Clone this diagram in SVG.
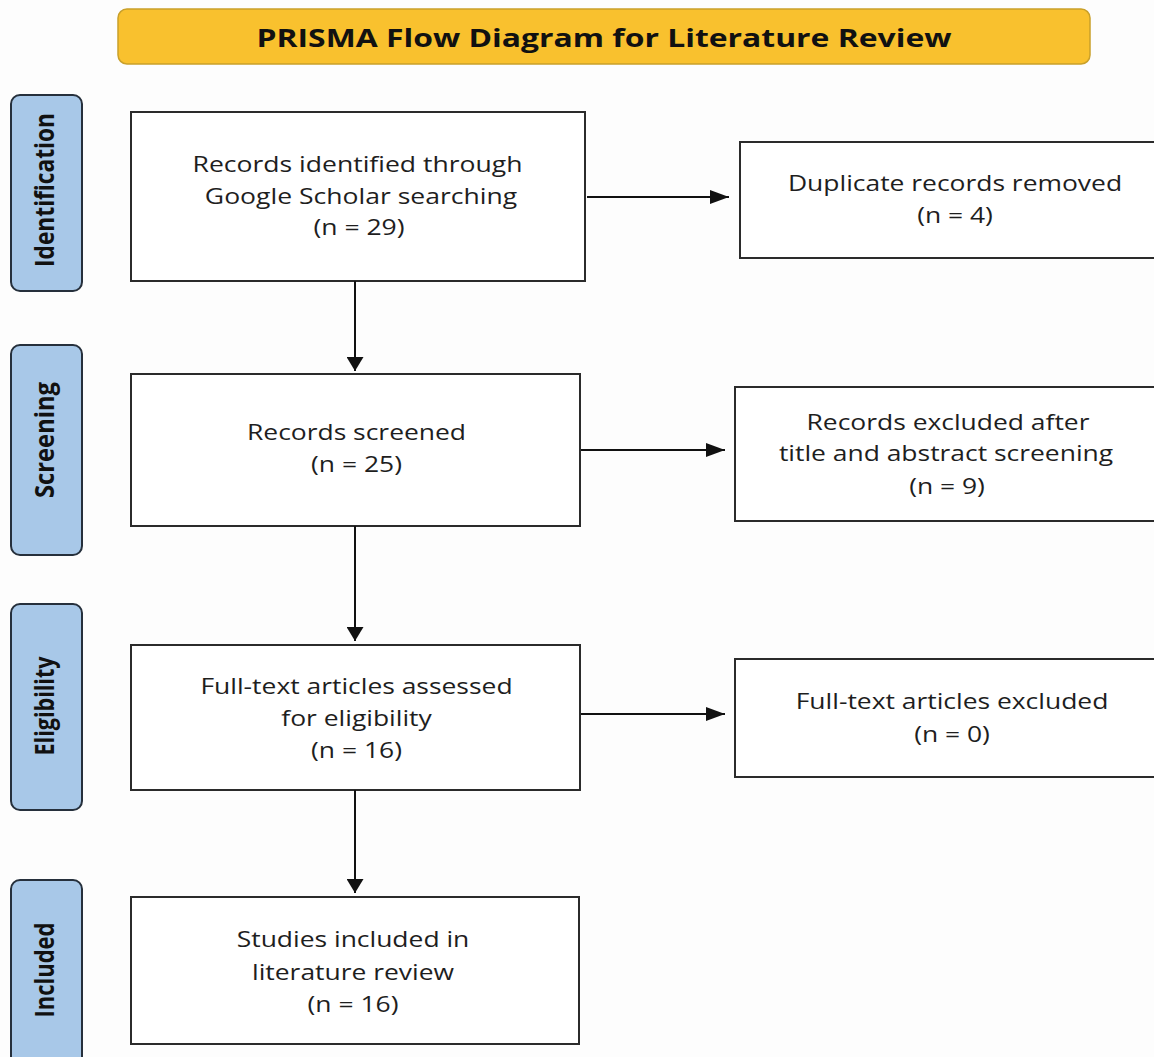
<svg xmlns="http://www.w3.org/2000/svg" width="1154" height="1057" viewBox="0 0 1154 1057">
<defs>
<marker id="ah" viewBox="0 0 19 14" refX="19" refY="7" markerWidth="19" markerHeight="14" markerUnits="userSpaceOnUse" orient="auto">
<path d="M0,0 L19,7 L0,14 z" fill="#111"/>
</marker>
<marker id="av" viewBox="0 0 14 17" refX="14" refY="8.5" markerWidth="14" markerHeight="17" markerUnits="userSpaceOnUse" orient="auto">
<path d="M0,0 L14,8.5 L0,17 z" fill="#111"/>
</marker>
<style>
.box{fill:#fff;stroke:#2b2b2b;stroke-width:2}
.side{fill:#a8c8e8;stroke:#26303c;stroke-width:2}
.t{font-family:"Open Sans","Liberation Sans",sans-serif;font-size:21.5px;fill:#1e1e1e;text-anchor:middle}
.s{font-family:"Open Sans","Liberation Sans",sans-serif;font-size:21px;font-weight:bold;fill:#111;text-anchor:middle}
.h{stroke:#111;stroke-width:2;fill:none;marker-end:url(#ah)}
.v{stroke:#111;stroke-width:2;fill:none;marker-end:url(#av)}
</style>
</defs>
<rect width="1154" height="1057" fill="#fdfdfd"/>
<g id="title">
<rect x="118" y="9" width="972" height="55" rx="9" fill="#f9c12e" stroke="#c9a02a" stroke-width="1.5"/>
<text x="604" y="46.5" font-family="'Open Sans','Liberation Sans',sans-serif" font-size="25" font-weight="bold" fill="#111" text-anchor="middle" textLength="695" lengthAdjust="spacingAndGlyphs">PRISMA Flow Diagram for Literature Review</text>
</g>
<g id="side-identification">
<rect class="side" x="11" y="95" width="71" height="196" rx="9"/>
<text class="s" transform="translate(54,190) scale(1.28,1) rotate(-90)" textLength="154" lengthAdjust="spacingAndGlyphs">Identification</text>
</g>
<g id="side-screening">
<rect class="side" x="11" y="345" width="71" height="210" rx="9"/>
<text class="s" transform="translate(54,440) scale(1.28,1) rotate(-90)" textLength="116" lengthAdjust="spacingAndGlyphs">Screening</text>
</g>
<g id="side-eligibility">
<rect class="side" x="11" y="604" width="71" height="206" rx="9"/>
<text class="s" transform="translate(54,706) scale(1.28,1) rotate(-90)" textLength="99" lengthAdjust="spacingAndGlyphs">Eligibility</text>
</g>
<g id="side-included">
<rect class="side" x="11" y="880" width="71" height="200" rx="9"/>
<text class="s" transform="translate(54,970) scale(1.28,1) rotate(-90)" textLength="95" lengthAdjust="spacingAndGlyphs">Included</text>
</g>
<g id="n-identified">
<rect class="box" x="131" y="112" width="454" height="169"/>
<text class="t" transform="translate(357.5,172) scale(1.235,1)">Records identified through</text>
<text class="t" transform="translate(361,204) scale(1.235,1)">Google Scholar searching</text>
<text class="t" transform="translate(359,235) scale(1.235,1)">(n = 29)</text>
</g>
<g id="n-duplicates">
<rect class="box" x="740" y="142" width="430" height="116"/>
<text class="t" transform="translate(955,191) scale(1.23,1)">Duplicate records removed</text>
<text class="t" transform="translate(955,223) scale(1.23,1)">(n = 4)</text>
</g>
<g id="n-screened">
<rect class="box" x="131" y="374" width="449" height="152"/>
<text class="t" transform="translate(356.5,440) scale(1.23,1)">Records screened</text>
<text class="t" transform="translate(356.5,472) scale(1.23,1)">(n = 25)</text>
</g>
<g id="n-excluded-screen">
<rect class="box" x="735" y="387" width="430" height="134"/>
<text class="t" transform="translate(948,430) scale(1.23,1)">Records excluded after</text>
<text class="t" transform="translate(946,461) scale(1.23,1)">title and abstract screening</text>
<text class="t" transform="translate(947,494) scale(1.23,1)">(n = 9)</text>
</g>
<g id="n-fulltext">
<rect class="box" x="131" y="645" width="449" height="145"/>
<text class="t" transform="translate(356.5,694) scale(1.23,1)">Full-text articles assessed</text>
<text class="t" transform="translate(356.5,726) scale(1.23,1)">for eligibility</text>
<text class="t" transform="translate(356.5,758) scale(1.23,1)">(n = 16)</text>
</g>
<g id="n-fulltext-excluded">
<rect class="box" x="735" y="659" width="430" height="118"/>
<text class="t" transform="translate(952,709) scale(1.23,1)">Full-text articles excluded</text>
<text class="t" transform="translate(952,742) scale(1.23,1)">(n = 0)</text>
</g>
<g id="n-included">
<rect class="box" x="131" y="897" width="448" height="147"/>
<text class="t" transform="translate(353,947) scale(1.23,1)">Studies included in</text>
<text class="t" transform="translate(353,980) scale(1.23,1)">literature review</text>
<text class="t" transform="translate(353,1012) scale(1.23,1)">(n = 16)</text>
</g>
<g id="connectors">
<line class="h" x1="587" y1="197" x2="729" y2="197"/>
<line class="v" x1="355" y1="281" x2="355" y2="371"/>
<line class="h" x1="581" y1="450" x2="725" y2="450"/>
<line class="v" x1="355" y1="526" x2="355" y2="641"/>
<line class="h" x1="581" y1="714" x2="725" y2="714"/>
<line class="v" x1="355" y1="790" x2="355" y2="893"/>
</g>
</svg>
